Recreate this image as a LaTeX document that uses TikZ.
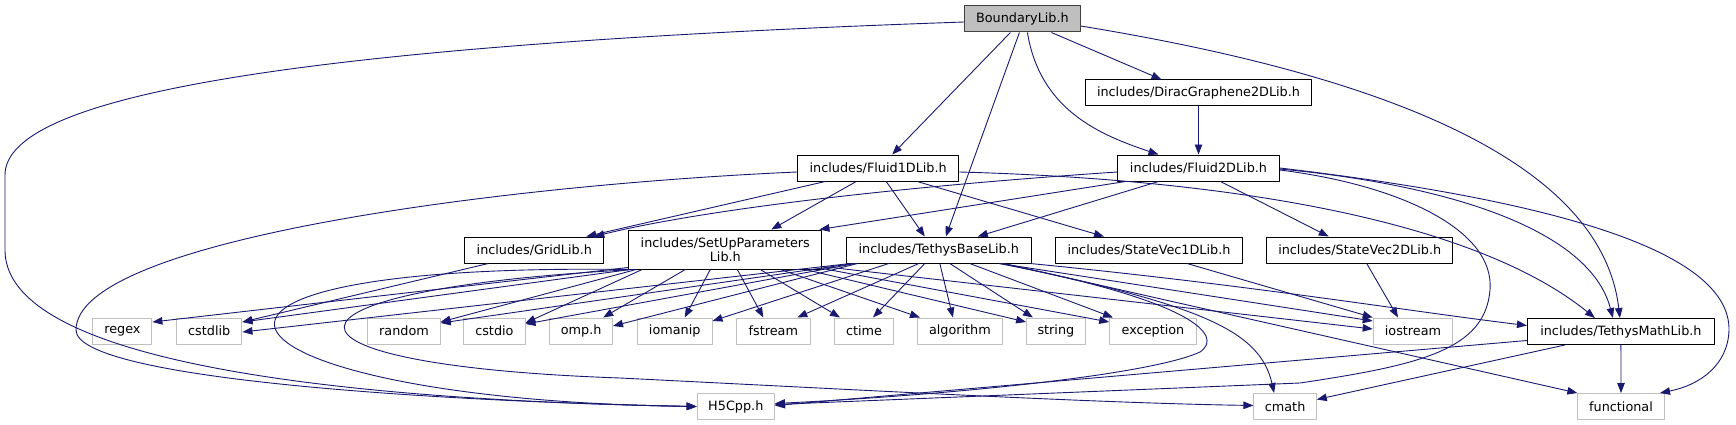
\documentclass[tikz,border=0pt]{standalone}
\usepackage{fontspec}
\setmainfont{DejaVu Sans}
\usetikzlibrary{arrows.meta}
\definecolor{edgeblue}{HTML}{191970}
\definecolor{boxgray}{HTML}{BFBFBF}
\definecolor{rootline}{HTML}{404040}
\tikzset{
  file/.style={draw=black, fill=white, line width=1pt, inner sep=0pt,
    minimum height=26pt, font=\fontsize{12.8}{14.5}\selectfont},
  root/.style={file, fill=boxgray, draw=rootline},
  sys/.style={file, draw=boxgray},
  dep/.style={->, draw=edgeblue, line width=0.9pt},
}
\begin{document}
\begin{tikzpicture}[x=1pt, y=-1pt, >={Triangle[length=10pt,width=7.5pt]}, line join=round]
  \useasboundingbox (0,0) rectangle (1736,425);
  % project headers
  \node[root, minimum width=115.6pt] (boundary) at (1022.4,19) {BoundaryLib.h};
  \node[file, minimum width=226.6pt] (dirac) at (1198.5,93) {includes/DiracGraphene2DLib.h};
  \node[file, minimum width=161.5pt] (fluidA) at (878.2,168) {includes/Fluid1DLib.h};
  \node[file, minimum width=161.6pt] (fluidB) at (1198.5,168) {includes/Fluid2DLib.h};
  \node[file, minimum width=139pt] (grid) at (534.3,250) {includes/GridLib.h};
  \node[file, minimum width=193.3pt, minimum height=39pt, align=center] (setup) at (725.3,249.5) {includes/SetUpParameters\\Lib.h};
  \node[file, minimum width=185.6pt] (base) at (938.8,250) {includes/TethysBaseLib.h};
  \node[file, minimum width=186.6pt] (svA) at (1149,250) {includes/StateVec1DLib.h};
  \node[file, minimum width=186.1pt] (svB) at (1359.7,250) {includes/StateVec2DLib.h};
  \node[file, minimum width=187pt] (mathlib) at (1620.9,331.5) {includes/TethysMathLib.h};
  % system headers
  \node[sys, minimum width=59pt] (regex) at (122.4,331) {regex};
  \node[sys, minimum width=65.5pt] (cstdlib) at (209.2,331) {cstdlib};
  \node[sys, minimum width=72.3pt] (random) at (404,331) {random};
  \node[sys, minimum width=61.2pt] (cstdio) at (494.4,331) {cstdio};
  \node[sys, minimum width=62.6pt] (omp) at (581.2,331) {omp.h};
  \node[sys, minimum width=74.6pt] (iomanip) at (674.7,331) {iomanip};
  \node[sys, minimum width=73.5pt] (fstream) at (773.3,331) {fstream};
  \node[sys, minimum width=59pt] (ctime) at (864,331) {ctime};
  \node[sys, minimum width=85.3pt] (algorithm) at (959.9,331) {algorithm};
  \node[sys, minimum width=58.6pt] (string) at (1055.9,331) {string};
  \node[sys, minimum width=86.6pt] (exception) at (1153,331) {exception};
  \node[sys, minimum width=79.6pt] (iostream) at (1413,331) {iostream};
  \node[sys, minimum width=77.3pt] (hfive) at (735.8,406.5) {H5Cpp.h};
  \node[sys, minimum width=62.4pt] (cmath) at (1285.1,406.5) {cmath};
  \node[sys, minimum width=86.3pt] (functional) at (1621,406.5) {functional};

  % BoundaryLib.h
  \draw[dep] ([yshift=-3pt]boundary.west) .. controls (300,45) and (5,95) .. (5,175)
    -- (5,250) .. controls (5,380) and (450,402) .. (hfive.west);
  \draw[dep] ([xshift=-12pt]boundary.south) -- ([xshift=14pt]fluidA.north);
  \draw[dep] ([xshift=-3pt]boundary.south) -- ([xshift=7pt]base.north);
  \draw[dep] ([xshift=5pt]boundary.south) .. controls (1040,110) and (1100,135) .. ([xshift=-40pt]fluidB.north);
  \draw[dep] ([xshift=29pt]boundary.south) -- ([xshift=-37pt]dirac.north);
  \draw[dep] ([yshift=-7pt]boundary.east) .. controls (1350,70) and (1600,150) .. ([xshift=-1pt]mathlib.north);
  \draw[dep] (dirac) -- (fluidB);

  % Fluid1DLib.h
  \draw[dep] ([yshift=-4pt]fluidA.west) .. controls (500,185) and (76,240) .. (76,330)
    .. controls (76,380) and (450,402) .. (hfive.west);
  \draw[dep] ([xshift=-53pt]fluidA.south) -- ([xshift=52pt]grid.north);
  \draw[dep] ([xshift=-22pt]fluidA.south) -- ([xshift=46pt]setup.north);
  \draw[dep] ([xshift=8pt]fluidA.south) -- ([xshift=-14pt]base.north);
  \draw[dep] ([xshift=39pt]fluidA.south) -- ([xshift=-45pt]svA.north);
  \draw[dep] ([yshift=-4pt]fluidA.east) .. controls (1250,180) and (1480,225) .. ([xshift=-26pt]mathlib.north);

  % Fluid2DLib.h
  \draw[dep] ([yshift=-4pt]fluidB.west) .. controls (850,190) and (680,215) .. ([xshift=60pt]grid.north);
  \draw[dep] ([xshift=-73pt]fluidB.south) -- ([xshift=-3pt]setup.north east);
  \draw[dep] ([xshift=-40pt]fluidB.south) -- ([xshift=39pt]base.north);
  \draw[dep] ([xshift=22pt]fluidB.south) -- ([xshift=-31pt]svB.north);
  \draw[dep] ([yshift=-2pt]fluidB.east) .. controls (1400,185) and (1495,230) .. (1490,290)
    .. controls (1485,350) and (1420,365) .. (1300,383) -- ([yshift=2pt]hfive.east);
  \draw[dep] ([yshift=-1pt]fluidB.east) .. controls (1450,185) and (1590,230) .. ([xshift=-8pt]mathlib.north);
  \draw[dep] (fluidB.east) .. controls (1550,200) and (1730,250) .. (1729,330)
    .. controls (1728,365) and (1700,385) .. ([xshift=39pt]functional.north);

  % GridLib.h, StateVec
  \draw[dep] ([xshift=-46pt]grid.south) -- ([yshift=9pt]cstdlib.east);
  \draw[dep] ([xshift=38pt]svA.south) -- (iostream.north west);
  \draw[dep] ([xshift=7pt]svB.south) -- ([xshift=-15pt]iostream.north);

  % SetUpParametersLib.h
  \draw[dep] ([yshift=2pt]setup.south west) -- ([yshift=9pt]regex.east);
  \draw[dep] ([xshift=2pt]setup.south west) -- ([yshift=9pt]cstdlib.east);
  \draw[dep] ([xshift=8pt]setup.south west) -- ([yshift=9pt]random.east);
  \draw[dep] ([xshift=14pt]setup.south west) -- ([yshift=8pt]cstdio.east);
  \draw[dep] ([xshift=-40pt]setup.south) -- ([xshift=22pt]omp.north);
  \draw[dep] ([xshift=-15pt]setup.south) -- ([xshift=10pt]iomanip.north);
  \draw[dep] ([xshift=12pt]setup.south) -- ([xshift=-10pt]fstream.north);
  \draw[dep] ([xshift=35pt]setup.south) -- ([xshift=-24pt]ctime.north);
  \draw[dep] ([xshift=55pt]setup.south) -- ([xshift=-40pt]algorithm.north);
  \draw[dep] ([xshift=80pt]setup.south) -- ([yshift=9pt]string.west);
  \draw[dep] ([yshift=1pt]setup.south east) -- ([yshift=9pt]exception.west);
  \draw[dep] ([yshift=3pt]setup.south east) -- ([yshift=2pt]iostream.west);
  \draw[dep] ([xshift=3pt]setup.south west) .. controls (90,262) and (210,400) .. (hfive.west);
  \draw[dep] ([xshift=6pt]setup.south west) .. controls (250,290) and (250,365) .. (620,378)
    .. controls (900,392) and (1100,403) .. ([yshift=1pt]cmath.west);

  % TethysBaseLib.h
  \draw[dep] ([xshift=5pt]base.south west) -- ([yshift=-1pt]cstdlib.east);
  \draw[dep] ([xshift=8pt]base.south west) -- ([yshift=8pt]random.east);
  \draw[dep] ([xshift=10pt]base.south west) -- ([yshift=7pt]cstdio.east);
  \draw[dep] ([xshift=12pt]base.south west) -- ([yshift=5pt]omp.east);
  \draw[dep] ([xshift=-50pt]base.south) -- ([yshift=10pt]iomanip.east);
  \draw[dep] ([xshift=-20pt]base.south) -- ([xshift=24pt]fstream.north);
  \draw[dep] ([xshift=-14pt]base.south) -- ([xshift=9pt]ctime.north);
  \draw[dep] ([xshift=1pt]base.south) -- ([xshift=-7pt]algorithm.north);
  \draw[dep] ([xshift=11pt]base.south) -- ([xshift=-23pt]string.north);
  \draw[dep] ([xshift=31pt]base.south) -- ([xshift=-40pt]exception.north);
  \draw[dep] ([xshift=61pt]base.south) -- ([yshift=10pt]iostream.west);
  \draw[dep] ([xshift=-2pt]base.south east) .. controls (1250,285) and (1400,310) .. ([yshift=6pt]mathlib.west);
  \draw[dep] ([xshift=63pt]base.south) .. controls (1200,305) and (1260,330) .. ([xshift=-11pt]cmath.north);
  \draw[dep] ([xshift=65pt]base.south) -- (functional.north west);
  \draw[dep] ([xshift=60pt]base.south) .. controls (1190,300) and (1225,335) .. (1200,352)
    .. controls (1150,375) and (950,395) .. ([yshift=3pt]hfive.east);

  % TethysMathLib.h
  \draw[dep] ([yshift=-9pt]mathlib.west) -- ([yshift=1pt]hfive.east);
  \draw[dep] ([xshift=-56pt]mathlib.south) -- ([yshift=7pt]cmath.east);
  \draw[dep] (mathlib) -- (functional);
\end{tikzpicture}
\end{document}
